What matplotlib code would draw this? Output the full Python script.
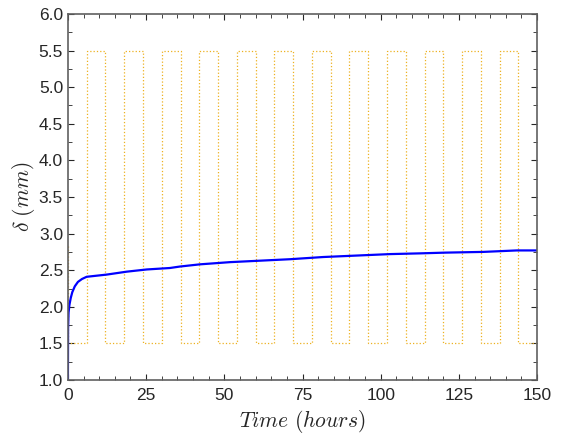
import numpy as np
import matplotlib
matplotlib.use("Agg")
import matplotlib.pyplot as plt
from matplotlib.ticker import MultipleLocator

plt.rcParams['font.family'] = ['Liberation Sans', 'DejaVu Sans']
plt.rcParams['mathtext.fontset'] = 'cm'

# loading cycle (square wave), period 12 h
cycle_edges = [0, 6, 12, 18, 24, 30, 36, 42, 48, 54, 60, 66, 72, 78, 84, 90,
               96, 102, 108, 114, 120, 126, 132, 138, 144, 150]
cycle_levels = [1.5, 5.5, 1.5, 5.5, 1.5, 5.5, 1.5, 5.5, 1.5, 5.5, 1.5, 5.5, 1.5,
                5.5, 1.5, 5.5, 1.5, 5.5, 1.5, 5.5, 1.5, 5.5, 1.5, 5.5, 1.5]
cycle_start = 2.83

# displacement
t_hours = [0, 0.05, 0.2, 0.5, 0.9, 1.4, 2.2, 3.2, 4.5, 6, 12.4, 18.8, 25.2,
           32.6, 35.8, 42.2, 51.8, 61.4, 71, 81.6, 92.3, 103, 112.6, 120.6,
           132.8, 143.5, 150]
delta_mm = [1.0, 1.7, 1.92, 2.03, 2.12, 2.20, 2.28, 2.34, 2.38, 2.41, 2.44,
            2.48, 2.51, 2.53, 2.55, 2.58, 2.61, 2.63, 2.65, 2.68, 2.70, 2.72,
            2.73, 2.74, 2.75, 2.77, 2.77]

# build step path for the cycle
xs = [0]
ys = [cycle_start]
for i, lev in enumerate(cycle_levels):
    xs += [cycle_edges[i], cycle_edges[i + 1]]
    ys += [lev, lev]

fig = plt.figure(figsize=(5.66, 4.34), dpi=100)
ax = fig.add_axes([0.120, 0.1244, 0.829, 0.8434])

ax.plot(xs, ys, linestyle=':', color='#EDB120', linewidth=0.9)
ax.plot(t_hours, delta_mm, color='#0000FF', linewidth=1.6)

ax.set_xlim(0, 150)
ax.set_ylim(1.0, 6.0)
ax.xaxis.set_major_locator(MultipleLocator(25))
ax.xaxis.set_minor_locator(MultipleLocator(5))
ax.yaxis.set_major_locator(MultipleLocator(0.5))
ax.yaxis.set_minor_locator(MultipleLocator(0.25))
ax.yaxis.set_major_formatter(matplotlib.ticker.FormatStrFormatter('%.1f'))

ax.tick_params(which='both', direction='in', top=True, right=True,
               colors='#262626', labelsize=12.5)
ax.tick_params(axis='x', which='major', pad=6)
ax.tick_params(which='major', length=4.5, width=0.8)
ax.tick_params(which='minor', length=3, width=0.6)
for s in ax.spines.values():
    s.set_color('#606060')
    s.set_linewidth(1.2)

ax.set_xlabel(r'$Time\ (hours)$', fontsize=15.5, color='#262626', labelpad=3)
ax.set_ylabel(r'$\delta\ (mm)$', fontsize=15.5, color='#262626', labelpad=1)

fig.savefig('out.png', dpi=100)
